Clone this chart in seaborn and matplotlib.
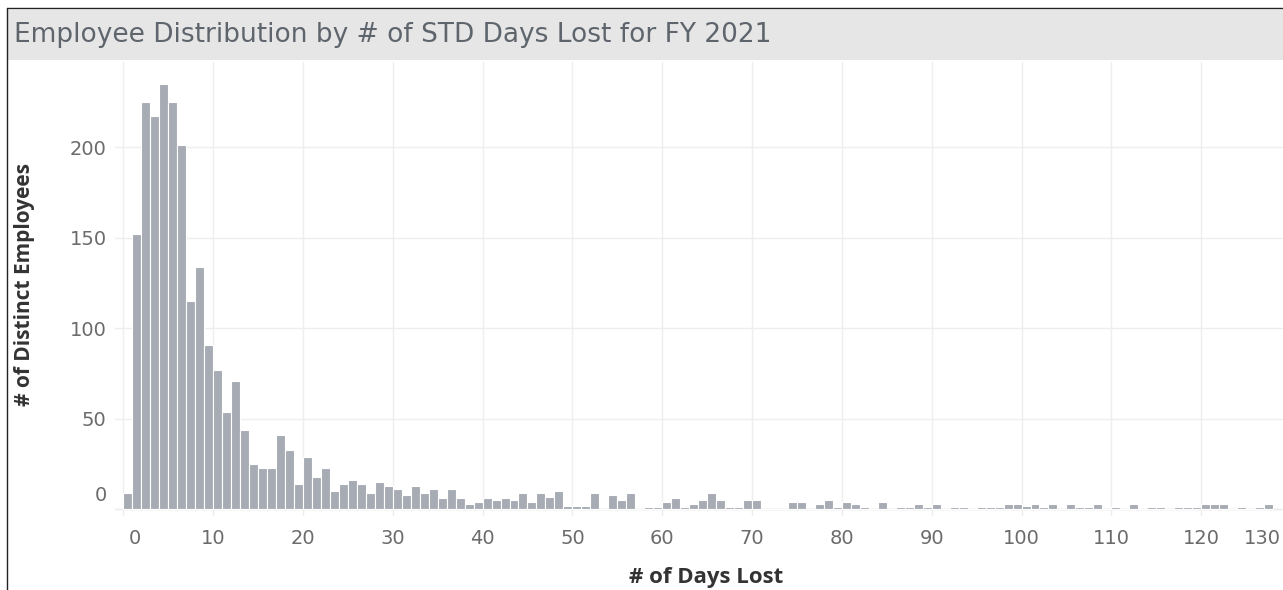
import numpy as np
import pandas as pd
import matplotlib.pyplot as plt
import matplotlib.transforms as mtransforms
from matplotlib.patches import Rectangle
from matplotlib.lines import Line2D
import seaborn as sns

# Days lost (integer bins) and number of distinct employees per bin
days = list(range(0, 128))
employees = [
    9, 152, 225, 217, 235, 225, 201, 115, 134, 91,      # 0-9
    77, 54, 71, 44, 25, 23, 23, 41, 33, 14,             # 10-19
    29, 18, 23, 10, 14, 16, 14, 9, 15, 13,              # 20-29
    11, 8, 13, 9, 11, 6, 11, 6, 3, 4,                   # 30-39
    6, 5, 6, 5, 9, 4, 9, 7, 10, 2,                      # 40-49
    2, 2, 9, 0, 8, 5, 9, 0, 1, 1,                       # 50-59
    4, 6, 1, 3, 5, 9, 5, 1, 1, 5,                       # 60-69
    5, 0, 0, 0, 4, 4, 0, 3, 5, 1,                       # 70-79
    4, 3, 1, 0, 4, 0, 1, 1, 3, 1,                       # 80-89
    3, 0, 1, 1, 0, 1, 1, 1, 3, 3,                       # 90-99
    2, 3, 1, 3, 0, 3, 1, 1, 3, 0,                       # 100-109
    1, 0, 3, 0, 1, 1, 0, 1, 1, 1,                       # 110-119
    3, 3, 3, 0, 1, 0, 1, 3,                             # 120-127
]
x_ticks = list(range(0, 140, 10))
y_ticks = [0, 50, 100, 150, 200]

title = "Employee Distribution by # of STD Days Lost for FY 2021"
x_title = "# of Days Lost"
y_title = "# of Distinct Employees"

df = pd.DataFrame({"days": days, "employees": employees})

sns.set_style("white")
plt.rcParams["font.family"] = ["Open Sans", "DejaVu Sans"]

W, H = 1283, 590
fig = plt.figure(figsize=(W / 100, H / 100), dpi=100)

# axes placed in pixel terms (right side runs a bit past the canvas, like the crop)
left, right, bottom, top = 115, 1291, 516, 62
ax = fig.add_axes([left / W, 1 - bottom / H, (right - left) / W, (bottom - top) / H])

sns.histplot(data=df, x="days", weights="employees", binwidth=1, binrange=(0, 128),
             color="#a7abb3", alpha=1, edgecolor="white", linewidth=0.8, ax=ax)

ax.set_xlim(-0.92, 130)
ax.set_ylim(-3.7, 247)
ax.set_xticks(x_ticks)
ax.set_yticks(y_ticks)
ax.grid(True, color="#eeeeee", linewidth=1)
ax.set_axisbelow(True)
ax.axhline(0, color="#e2e2e2", linewidth=1, zorder=0)
for s in ax.spines.values():
    s.set_visible(False)
ax.set_xlabel("")
ax.set_ylabel("")
ax.tick_params(axis="both", length=0, labelsize=14, colors="#6b6b6b",
               labelfontfamily="DejaVu Sans")
ax.tick_params(axis="x", pad=9)
ax.tick_params(axis="y", pad=6)

# Tableau nudges the edge labels inward
def nudge(label, dx, dy):
    label.set_transform(label.get_transform() +
                        mtransforms.ScaledTranslation(dx / 100, dy / 100, fig.dpi_scale_trans))

xl = ax.get_xticklabels()
nudge(xl[0], 12, 0)
nudge(xl[-1], -29, 0)
nudge(ax.get_yticklabels()[0], 0, 16)

# title band and frame
fig.patches.append(Rectangle((8 / W, 1 - 60 / H), 1, 50 / H, transform=fig.transFigure,
                             facecolor="#e6e6e6", edgecolor="none", zorder=0))
fig.lines.append(Line2D([7 / W, 7 / W], [0, 1 - 8 / H], transform=fig.transFigure,
                        color="#222222", linewidth=1))
fig.lines.append(Line2D([7 / W, 1], [1 - 8 / H, 1 - 8 / H], transform=fig.transFigure,
                        color="#222222", linewidth=1))
fig.text(14 / W, 1 - 35 / H, title, fontsize=19, color="#5f656d", va="center", ha="left",
         family="DejaVu Sans")

fig.text(706 / W, 1 - 578 / H, x_title, fontsize=16, fontweight="bold",
         color="#333333", ha="center", va="center")
fig.text(25 / W, 1 - 285 / H, y_title, fontsize=15, fontweight="bold",
         color="#333333", ha="center", va="center", rotation=90)

fig.savefig("out.png", dpi=100)
